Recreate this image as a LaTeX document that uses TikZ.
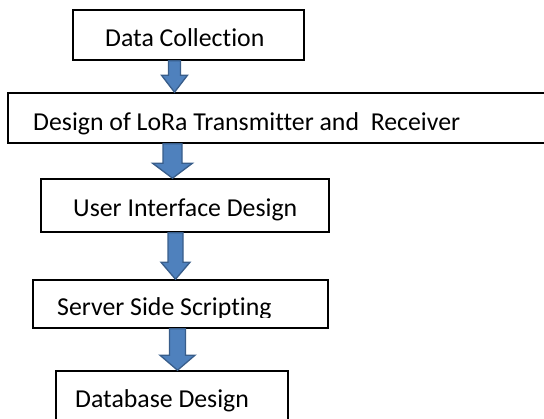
\documentclass[tikz,border=0pt]{standalone}
\usepackage{fontspec}
\setmainfont{Carlito}[Ligatures=CommonOff]
\usetikzlibrary{calc}
\definecolor{arrfill}{HTML}{4F81BD}
\definecolor{arrdraw}{HTML}{385D8A}
\tikzset{
  box/.style={draw=black, line width=1.5pt, inner sep=0pt, rectangle},
  lbl/.style={inner sep=0pt, font=\fontsize{25.8}{30}\selectfont, anchor=base west},
  blockarr/.style={fill=arrfill, draw=arrdraw, line width=1.3pt, line join=miter}
}
\newcommand\blockarrow[6]{%
  \filldraw[blockarr] let \p1=(#1.south), \p2=(#2.north) in
    (#3pt-#4pt,\y1) -- (#3pt+#4pt,\y1) -- (#3pt+#4pt,\y2+#6pt) -- (#3pt+#5pt,\y2+#6pt)
    -- (#3pt,\y2) -- (#3pt-#5pt,\y2+#6pt) -- (#3pt-#4pt,\y2+#6pt) -- cycle;}
\begin{document}
\begin{tikzpicture}[x=1pt,y=-1pt]
\useasboundingbox (0,0) rectangle (544,419);
\node[box, minimum width=231pt, minimum height=50pt] (b1) at (188.5,35) {};
\node[box, minimum width=542pt, minimum height=50pt] (b2) at (279,118) {};
\node[box, minimum width=288pt, minimum height=53pt] (b3) at (185,205.5) {};
\node[box, minimum width=295pt, minimum height=48pt] (b4) at (180.5,304) {};
\node[box, minimum width=232pt, minimum height=59pt] (b5) at (172,400.5) {};
\node[lbl] (t1) at (105,47) {Data Collection};
\node[lbl] (t2) at (33,130.5) {Design of LoRa Transmitter and~ Receiver};
\node[lbl] (t3) at (73,217) {User Interface Design};
\begin{scope}
\clip (0,0) rectangle (544,317.5);
\node[lbl] (t4) at (57,315.5) {Server Side Scripting};
\end{scope}
\node[lbl] (t5) at (75,407.5) {Database Design};
\blockarrow{b1}{b2}{174.5}{6}{13}{17}
\blockarrow{b2}{b3}{172.5}{9.5}{20}{15}
\blockarrow{b3}{b4}{175.5}{7.5}{14.5}{17}
\blockarrow{b4}{b5}{177.5}{8}{17.5}{15}
\end{tikzpicture}
\end{document}
